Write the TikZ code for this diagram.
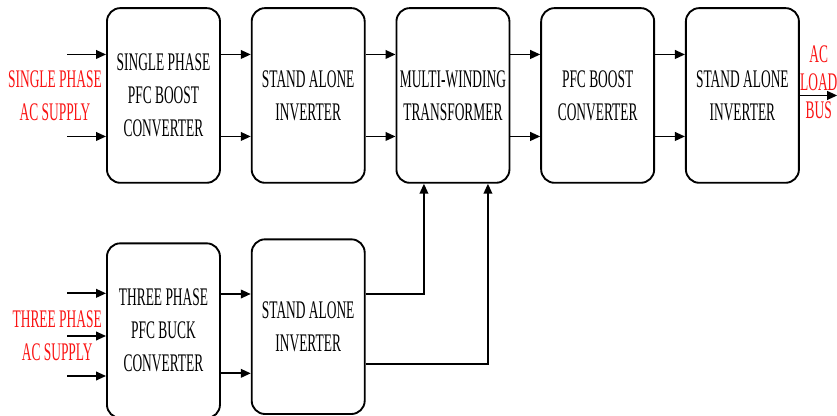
\documentclass[tikz,border=0pt]{standalone}
\usepackage{fontspec}
\setmainfont{Liberation Serif}[FakeStretch=0.53]
\usetikzlibrary{positioning,arrows.meta}
\definecolor{supply-red}{RGB}{250,20,20}

\begin{document}
\begin{tikzpicture}[node distance=22.4pt and 22.4pt, font=\fontsize{19}{24.75}\selectfont,
    block/.style={draw, line width=1.4pt, rounded corners=10pt, align=center,
        minimum width=84.75pt, minimum height=131pt, inner sep=2pt},
    source/.style={text=supply-red, align=center, inner sep=0pt},
    link/.style={line width=1.3pt, -{Triangle[length=7.5pt,width=6.5pt]}}]
    \useasboundingbox (0,0) rectangle (627.75pt,-312pt);

    % Upper chain
    \node[block] (spfc) at (122.6pt,-71.6pt) {SINGLE PHASE\\PFC BOOST\\CONVERTER};
    \node[block, right=of spfc] (sinv1) {STAND ALONE\\INVERTER};
    \node[block, right=of sinv1] (mwt) {MULTI-WINDING\\TRANSFORMER};
    \node[block, right=of mwt] (pfcb) {PFC BOOST\\CONVERTER};
    \node[block, right=of pfcb] (sinv2) {STAND ALONE\\INVERTER};

    % Lower chain
    \node[block, below=44pt of spfc] (tpfc) {THREE PHASE\\PFC BUCK\\CONVERTER};
    \node[block, right=of tpfc, yshift=3pt] (tinv) {STAND ALONE\\INVERTER};

    % Supplies and load
    \node[source, left=3pt of spfc] (ssup) {SINGLE PHASE\\AC SUPPLY};
    \node[source, left=3pt of tpfc, yshift=-4pt] (tsup) {THREE PHASE\\AC SUPPLY};
    \node[source, right=0pt of sinv2, yshift=10pt, font=\fontsize{19}{21}\selectfont] (load) {AC\\LOAD\\BUS};

    % Free ends
    \coordinate (sin1) at ([xshift=-29pt,yshift=30.75pt]spfc.west);
    \coordinate (sin2) at ([xshift=-29pt,yshift=-30.75pt]spfc.west);
    \coordinate (tin1) at ([xshift=-29pt,yshift=28pt]tpfc.west);
    \coordinate (tin2) at ([xshift=-29pt,yshift=-4pt]tpfc.west);
    \coordinate (tin3) at ([xshift=-29pt,yshift=-34pt]tpfc.west);
    \coordinate[right=28pt of sinv2.east] (bus);

    % Connections
    \draw[link] (sin1) -- (sin1 -| spfc.west);
    \draw[link] (sin2) -- (sin2 -| spfc.west);
    \foreach \a/\b in {spfc/sinv1, sinv1/mwt, mwt/pfcb, pfcb/sinv2} {
        \draw[link] ([yshift=30.75pt]\a.east) -- ([yshift=30.75pt]\b.west);
        \draw[link] ([yshift=-30.75pt]\a.east) -- ([yshift=-30.75pt]\b.west);
    }
    \draw[link] (sinv2.east) -- (bus);

    \draw[link] (tin1) -- (tin1 -| tpfc.west);
    \draw[link] (tin2) -- (tin2 -| tpfc.west);
    \draw[link] (tin3) -- (tin3 -| tpfc.west);
    \draw[link] ([yshift=27.5pt]tpfc.east) -- ([yshift=27.5pt]tpfc.east -| tinv.west);
    \draw[link] ([yshift=-32pt]tpfc.east) -- ([yshift=-32pt]tpfc.east -| tinv.west);
    \draw[link] ([yshift=24.4pt]tinv.east) -| ([xshift=-21.75pt]mwt.south);
    \draw[link] ([yshift=-28.1pt]tinv.east) -| ([xshift=26.25pt]mwt.south);
\end{tikzpicture}
\end{document}
